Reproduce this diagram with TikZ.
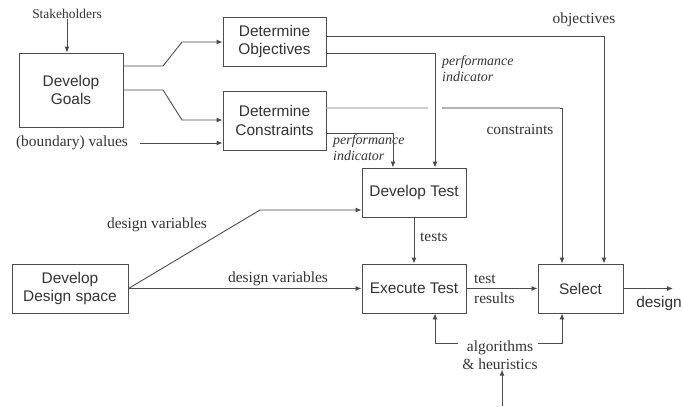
\documentclass[tikz,border=0pt]{standalone}
\usepackage{fontspec}
\setmainfont{Liberation Serif}
\setsansfont{Liberation Sans}
\usetikzlibrary{arrows.meta}
\definecolor{ln}{gray}{0.3}
\definecolor{tx}{gray}{0.2}
\definecolor{lightln}{gray}{0.7}
\tikzset{
  box/.style={draw=ln, line width=0.9bp, text=tx, align=center, inner sep=0pt,
    font=\sffamily\fontsize{15.5}{19}\selectfont},
  lbl/.style={text=tx, inner sep=0pt, font=\fontsize{15.5}{18}\selectfont},
  ital/.style={text=tx, inner sep=0pt, align=left, font=\itshape\fontsize{14}{17}\selectfont},
  conn/.style={draw=ln, line width=0.9bp},
  arr/.style={conn, -{Latex[length=6bp,width=5bp]}},
}
\begin{document}
\begin{tikzpicture}[x=1bp,y=-1bp]
\useasboundingbox (0,0) rectangle (683,406);
% boxes
\node[box, minimum width=104bp, minimum height=74bp] (goals) at (71,90) {Develop\\Goals};
\node[box, minimum width=103bp, minimum height=49bp] (obj) at (274.5,41.5) {Determine\\Objectives};
\node[box, minimum width=103bp, minimum height=59bp] (cons) at (274.5,120.5) {Determine\\Constraints};
\node[box, minimum width=104bp, minimum height=49bp] (devtest) at (414,192.5) {Develop Test};
\node[box, minimum width=104bp, minimum height=49bp] (exec) at (414,288.5) {Execute Test};
\node[box, minimum width=85bp, minimum height=49bp] (select) at (580.5,288.5) {Select};
\node[box, minimum width=116bp, minimum height=49bp] (ds) at (70,288.5) {Develop\\Design space};
% labels
\node[lbl, font=\fontsize{13.5}{16}\selectfont] (stake) at (67,14) {Stakeholders};
\node[lbl] (bval) at (72,143) {(boundary) values};
\node[lbl] (objl) at (584,20) {objectives};
\node[lbl] (consl) at (520,129) {constraints};
\node[ital, anchor=north west] (pi1) at (442,55) {performance\\indicator};
\node[ital, anchor=north west] (pi2) at (333,134) {performance\\indicator};
\node[lbl] (dv1) at (157,225) {design variables};
\node[lbl] (dv2) at (278,279) {design variables};
\node[lbl, anchor=west] (testsl) at (420,237) {tests};
\node[lbl, anchor=west] (testl) at (474,279) {test};
\node[lbl, anchor=west] (resl) at (474,298) {results};
\node[lbl, font=\sffamily\fontsize{15.5}{18}\selectfont] (designl) at (659,303) {design};
\node[lbl, align=center] (alg) at (500,355) {algorithms\\\& heuristics};
\coordinate (algin) at (502,406);
% connectors
\draw[arr] (stake.south) -- (stake.south |- goals.north);
\draw[arr] ([yshift=24bp]goals.east) -- (163,66) -- (182,42) -- (obj.west |- 0,42);
\draw[arr] (goals.east) -- (163,90) -- (182,120) -- (cons.west |- 0,120);
\draw[arr] ([xshift=12bp]bval.east) -- (cons.west |- bval.east);
\draw[arr] ([yshift=5.5bp]obj.east) -| ([xshift=23.5bp]select.north);
\draw[arr] ([yshift=-11.5bp]obj.east) -| ([xshift=21bp]devtest.north);
\draw[draw=lightln, line width=1.4bp] ([yshift=12.5bp]cons.east) -- (428,108);
\draw[arr, draw=ln] (442,108) -| ([xshift=-18.5bp]select.north);
\draw[draw=lightln, line width=1.4bp] (442,108) -- (560,108);
\draw[arr] ([yshift=-12.5bp]cons.east) -| ([xshift=-21bp]devtest.north);
\draw[arr] (ds.east) -- (260,210) -- (devtest.west |- 0,210);
\draw[arr] (ds.east) -- (exec.west);
\draw[arr] (devtest.south) -- (exec.north);
\draw[arr] (exec.east) -- (select.west);
\draw[arr] (select.east) -- (673,288.5);
\draw[arr] (458,343) -| ([xshift=21bp]exec.south);
\draw[arr] (538,343) -| ([xshift=-18.5bp]select.south);
\draw[arr] (algin) -- (alg.south -| algin);
\end{tikzpicture}
\end{document}
